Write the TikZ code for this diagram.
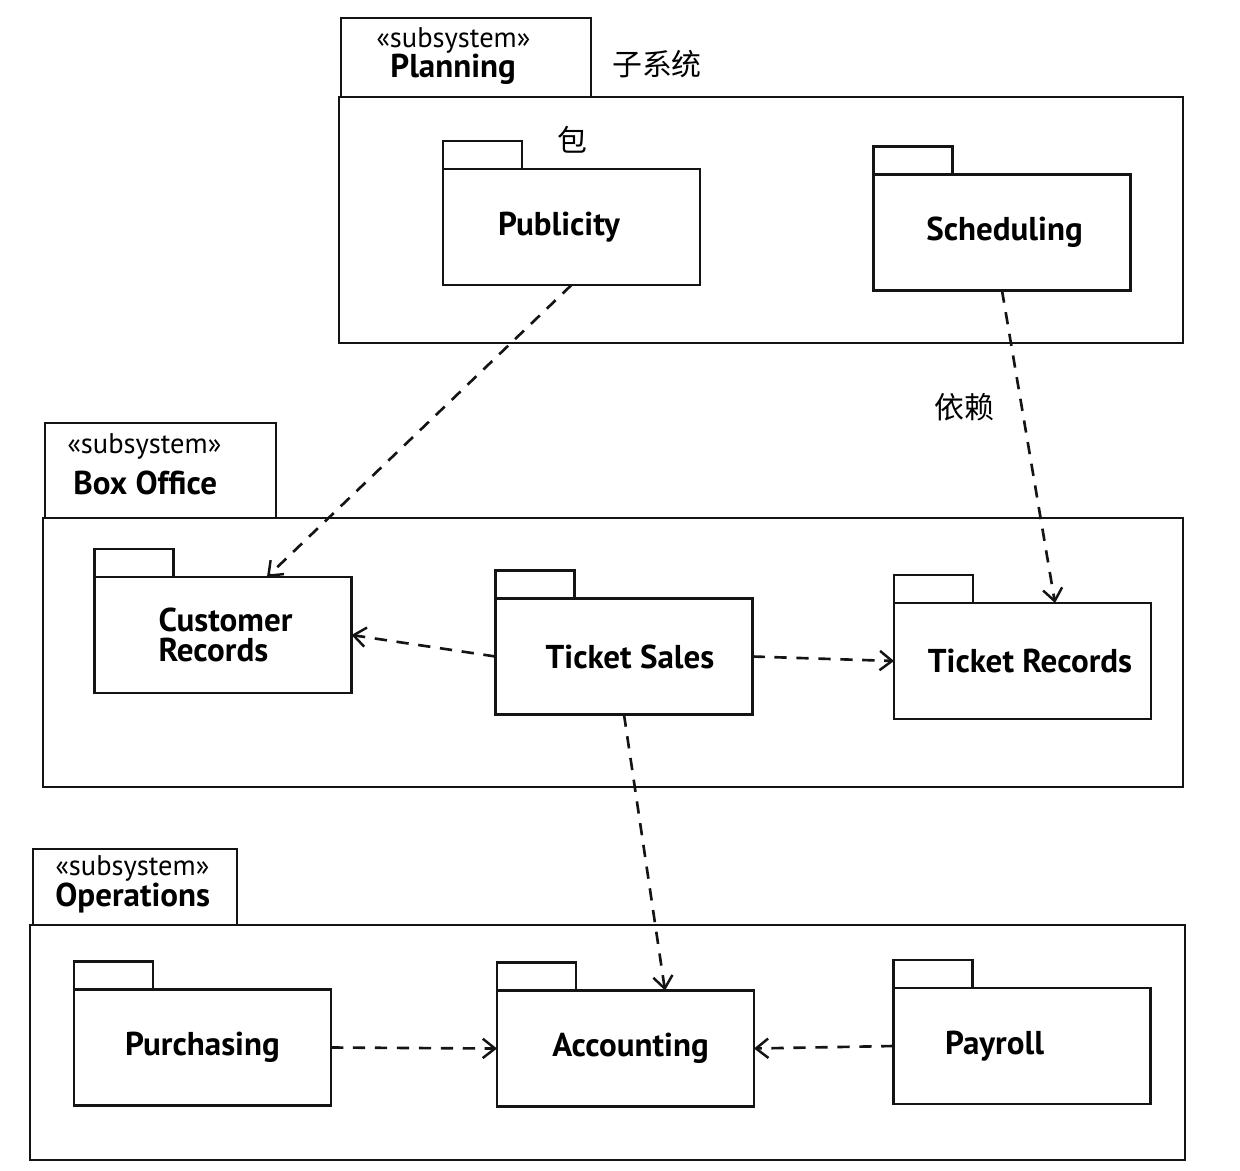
\documentclass[tikz,border=0pt]{standalone}
\usepackage{fontspec}
\setmainfont{PT Sans}
\newfontfamily\cjkfont{Noto Sans CJK SC}
\usetikzlibrary{arrows.meta, positioning, calc}
\definecolor{mainBlack}{gray}{0.08}

\tikzset{
    pkg/.style={draw=mainBlack, line width=1.4pt, minimum width=5.14cm, minimum height=2.32cm, inner sep=0pt, outer sep=0pt, align=left, font=\fontsize{18.8}{17}\selectfont\bfseries},
    pkgtab/.style={draw=mainBlack, line width=1.4pt, minimum width=1.58cm, minimum height=0.56cm, inner sep=0pt, outer sep=0pt, anchor=south west},
    subsys/.style={draw=mainBlack, line width=1.4pt},
    stereo/.style={anchor=west, inner sep=0pt, font=\fontsize{16.2}{16}\selectfont},
    subname/.style={anchor=west, inner sep=0pt, font=\fontsize{18.8}{18}\selectfont\bfseries},
    dep/.style={draw=mainBlack, line width=1.5pt, dash pattern=on 7pt off 5.5pt, -{Straight Barb[length=7pt, width=11pt, line width=1.4pt]}},
    note/.style={inner sep=0pt, font=\cjkfont\fontsize{17}{18}\selectfont}
}

\begin{document}
\begin{tikzpicture}[x=0.02cm, y=-0.02cm]
        \useasboundingbox (0,0) rectangle (1240,1170);

        % subsystem Planning
        \draw[subsys] (339,97) rectangle (1183,343);
        \draw[subsys] (341,97) rectangle (591,18);
        \node[stereo] (planSt) at (376,40) {«subsystem»};
        \node[subname] (planName) at (390,69) {Planning};
        \node[pkg] (pub) at (571.5,227) {Publicity\hspace*{0.5cm}};
        \node[pkgtab] at (pub.north west) {};
        \node[pkg] (sched) at (1002,232.5) {\hspace*{0.1cm}Scheduling};
        \node[pkgtab] at (sched.north west) {};

        % subsystem Box Office
        \draw[subsys] (43,518) rectangle (1183,787);
        \draw[subsys] (45,518) rectangle (276,423);
        \node[stereo] (boxSt) at (67,446) {«subsystem»};
        \node[subname] (boxName) at (73,483) {Box Office};
        \node[pkg] (cr) at (223,635) {\hspace*{0.1cm}Customer\\\hspace*{0.1cm}Records};
        \node[pkgtab] at (cr.north west) {};
        \node[pkg] (ts) at (624,656.5) {\hspace*{0.24cm}Ticket Sales};
        \node[pkgtab] at (ts.north west) {};
        \node[pkg] (trec) at (1022.5,661) {\hspace*{0.3cm}Ticket Records};
        \node[pkgtab] at (trec.north west) {};

        % subsystem Operations
        \draw[subsys] (30,925) rectangle (1185,1160);
        \draw[subsys] (33,925) rectangle (237,849);
        \node[stereo] (opSt) at (55,868) {«subsystem»};
        \node[subname] (opName) at (55,898) {Operations};
        \node[pkg] (pur) at (202.5,1047.5) {Purchasing};
        \node[pkgtab] at (pur.north west) {};
        \node[pkg] (acc) at (625.5,1048.5) {\hspace*{0.2cm}Accounting};
        \node[pkgtab] at (acc.north west) {};
        \node[pkg] (pay) at (1022,1046) {Payroll\hspace*{1.1cm}};
        \node[pkgtab] at (pay.north west) {};

        % dependencies
        \draw[dep] (pub.south) -- ([xshift=0.88cm]cr.north);
        \draw[dep] (sched.south) -- ([xshift=0.65cm]trec.north);
        \draw[dep] (ts.west) -- (cr.east);
        \draw[dep] (ts.east) -- (trec.west);
        \draw[dep] (ts.south) -- ([xshift=0.79cm]acc.north);
        \draw[dep] (pur.east) -- (acc.west);
        \draw[dep] (pay.west) -- (acc.east);

        % notes
        \node[note] (subLbl) at (657,64) {子系统};
        \node[note] (pkgLbl) at (572,140) {包};
        \node[note] (depLbl) at (964,407) {依赖};
    \end{tikzpicture}
\end{document}
